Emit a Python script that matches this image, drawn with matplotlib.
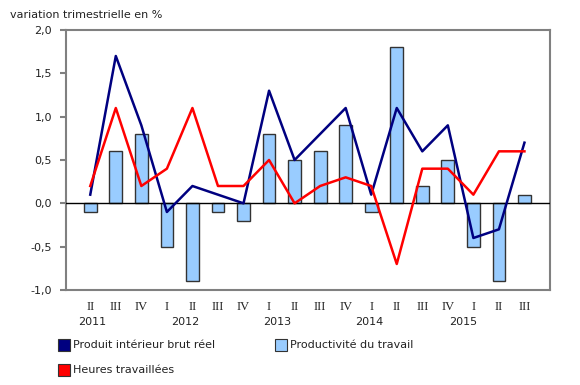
import numpy as np
import matplotlib
matplotlib.use("Agg")
import matplotlib.pyplot as plt
from matplotlib.patches import Rectangle

# Data (quarterly % change, 2011 Q2 to 2015 Q3)
quarters = ["II", "III", "IV", "I", "II", "III", "IV", "I", "II", "III",
            "IV", "I", "II", "III", "IV", "I", "II", "III"]
years = ["2011", "2012", "2013", "2014", "2015"]
year_pos = [0.08, 3.73, 7.33, 10.94, 14.59]

pib = [0.1, 1.7, 0.9, -0.1, 0.2, 0.1, 0.0, 1.3, 0.5, 0.8,
       1.1, 0.1, 1.1, 0.6, 0.9, -0.4, -0.3, 0.7]
productivite = [-0.1, 0.6, 0.8, -0.5, -0.9, -0.1, -0.2, 0.8, 0.5, 0.6,
                0.9, -0.1, 1.8, 0.2, 0.5, -0.5, -0.9, 0.1]
heures = [0.2, 1.1, 0.2, 0.4, 1.1, 0.2, 0.2, 0.5, 0.0, 0.2,
          0.3, 0.2, -0.7, 0.4, 0.4, 0.1, 0.6, 0.6]

yticks = [-1.0, -0.5, 0.0, 0.5, 1.0, 1.5, 2.0]

c_pib = "#000080"
c_prod = "#99CCFF"
c_heures = "#FF0000"

plt.rcParams["font.family"] = "DejaVu Sans"
plt.rcParams["font.size"] = 8

fig = plt.figure(figsize=(5.8, 3.85), dpi=100)
ax = fig.add_axes([66 / 580, 1 - 290 / 385, 484 / 580, 260 / 385])

x = np.arange(len(quarters))
ax.bar(x, productivite, width=0.5, color=c_prod, edgecolor="#333333",
       linewidth=1, zorder=2)
ax.axhline(0, color="black", linewidth=1, zorder=3)
ax.plot(x, pib, color=c_pib, linewidth=1.8, zorder=4)
ax.plot(x, heures, color=c_heures, linewidth=1.8, zorder=4)

ax.set_xlim(-0.95, 18.0)
ax.set_ylim(-1.0, 2.0)
ax.set_yticks(yticks)
ax.set_yticklabels([f"{v:.1f}".replace(".", ",") for v in yticks],
                   color="#222222")
ax.tick_params(axis="y", length=4, width=1.5, color="#808080", pad=6,
               labelsize=8)
ax.set_xticks(x)
ax.set_xticklabels(quarters, family="Liberation Serif", fontsize=9,
                   color="#222222")
ax.tick_params(axis="x", length=0, pad=8)
for s in ax.spines.values():
    s.set_color("#808080")
    s.set_linewidth(1.5)

for yr, p in zip(years, year_pos):
    ax.text(p, -0.123, yr, transform=ax.get_xaxis_transform(),
            ha="center", va="center", fontsize=8, color="#222222")

fig.text(10 / 580, 1 - 15 / 385, "variation trimestrielle en %",
         fontsize=8, va="center", color="#222222")

# legend
legend_items = [
    ("Produit intérieur brut réel", c_pib, 58, 345),
    ("Productivité du travail", c_prod, 275, 345),
    ("Heures travaillées", c_heures, 58, 370),
]
for label, col, px, py in legend_items:
    fig.add_artist(Rectangle((px / 580, 1 - (py + 6) / 385), 12 / 580,
                             12 / 385, transform=fig.transFigure,
                             facecolor=col, edgecolor="#333333",
                             linewidth=0.8))
    fig.text((px + 15) / 580, 1 - py / 385, label, fontsize=8,
             va="center", color="#222222")

fig.savefig("out.png", dpi=100)
